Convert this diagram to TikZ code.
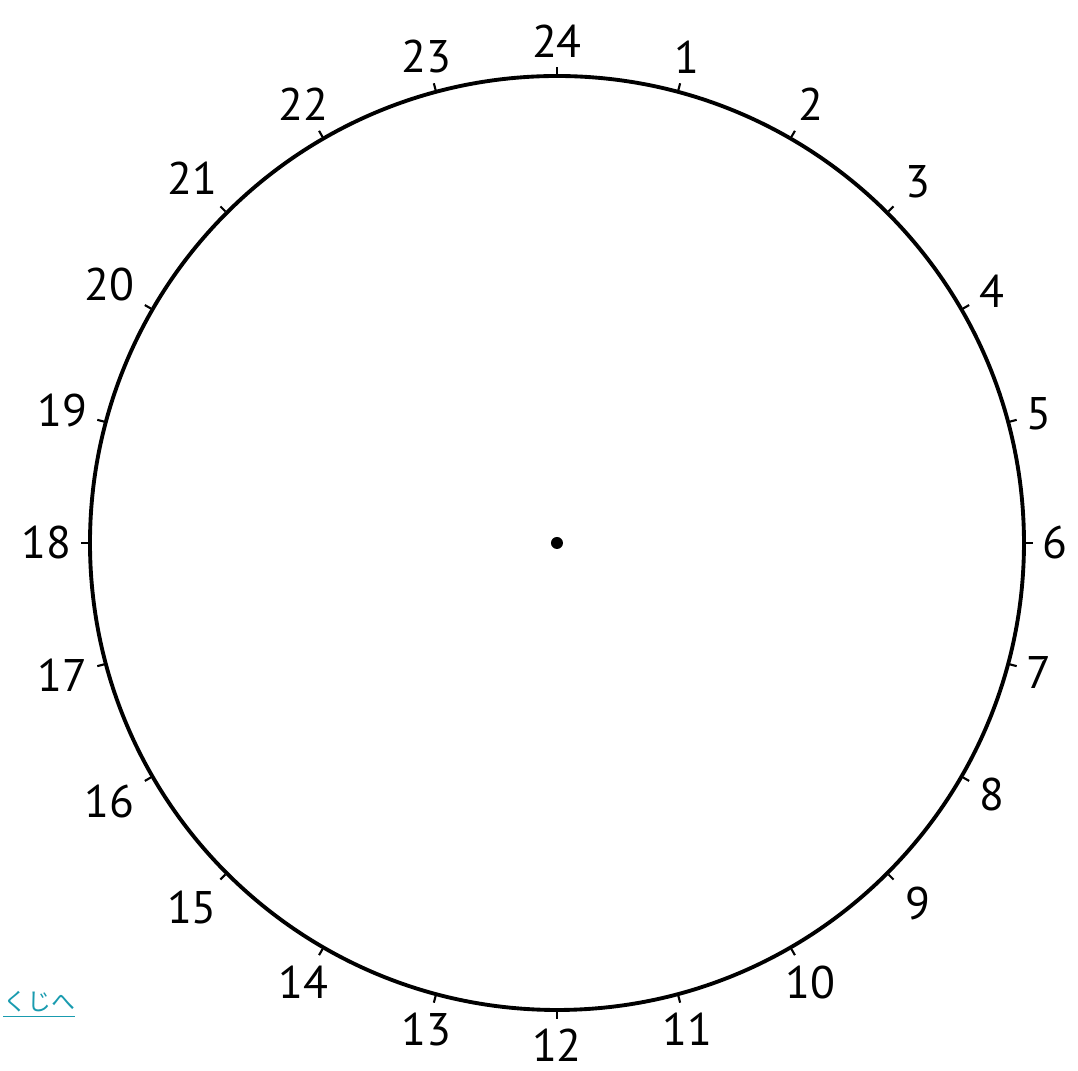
\documentclass[tikz,border=0pt]{standalone}
\usepackage{xcolor}
\usepackage{fontspec}
\setmainfont{PT Sans}
\newfontfamily\jpfont{Noto Sans CJK JP}
\usepackage{tikz}
\usetikzlibrary{positioning,calc}

\definecolor{linkteal}{RGB}{25,155,175}

\begin{document}
\begin{tikzpicture}[
  x=1cm, y=1cm,
  dial/.style={draw, circle, line width=1.1pt, minimum size=9.34cm, inner sep=0pt},
  hourlabel/.style={inner sep=4.6pt, font=\fontsize{13}{15}\selectfont},
  hub/.style={circle, fill=black, minimum size=0.12cm, inner sep=0pt},
  tick/.style={line width=0.6pt},
  link/.style={anchor=west, text=linkteal, font=\jpfont\fontsize{6.8}{8}\selectfont}
]

\useasboundingbox (-5.57,-5.28) rectangle (5.21,5.43);

\node[dial] (clock) at (0,0) {};
\node[hub] (centre) at (0,0) {};

\foreach \h in {1,...,24} {
  \pgfmathsetmacro{\a}{90-15*\h}
  \draw[tick] (clock.\a) -- ++(\a:0.07);
  \node[hourlabel, anchor=\a+180] (h\h) at (clock.\a) {\h};
}

\node[link] (back) at (-5.66,-4.62) {\underline{くじへ}};

\end{tikzpicture}
\end{document}
